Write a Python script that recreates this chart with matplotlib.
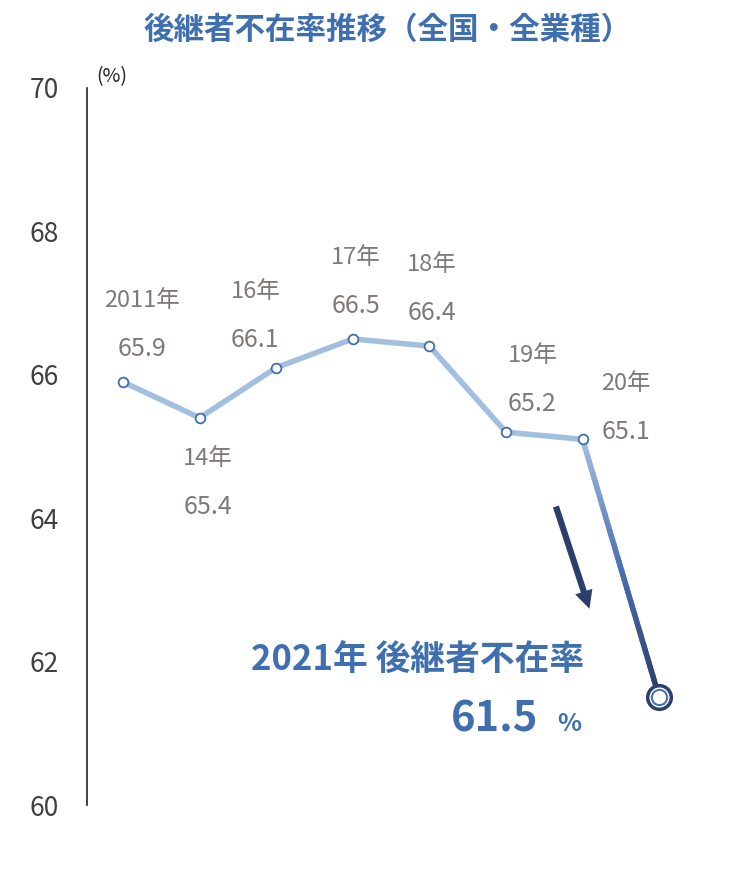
import matplotlib.pyplot as plt
import numpy as np
from matplotlib.collections import LineCollection
from matplotlib.colors import LinearSegmentedColormap

plt.rcParams['font.family'] = 'Noto Sans CJK JP'

years = ['2011年', '14年', '16年', '17年', '18年', '19年', '20年', '2021年']
values = [65.9, 65.4, 66.1, 66.5, 66.4, 65.2, 65.1, 61.5]
yticks = [60, 62, 64, 66, 68, 70]

# label offsets in points (dx, dy of value line)
offsets = [(14, 24), (6, -64), (-15, 20), (2, 24), (2, 24), (19, 20), (31, 5)]

fig = plt.figure(figsize=(7.32, 8.84), dpi=100)
ax = fig.add_axes([87 / 732, 79 / 884, 645 / 732, 717 / 884])
x = np.arange(len(values))
ax.set_xlim(-0.47, 7.95)
ax.set_ylim(60, 70)

light = '#a3bfe0'
navy = '#2a3f6a'
ax.plot(x[:-1], values[:-1], color=light, lw=4, zorder=2)
# gradient final segment
t = np.linspace(0, 1, 60)
xs = x[-2] + t * (x[-1] - x[-2])
ys = values[-2] + t * (values[-1] - values[-2])
pts = np.array([xs, ys]).T.reshape(-1, 1, 2)
segs = np.concatenate([pts[:-1], pts[1:]], axis=1)
cmap = LinearSegmentedColormap.from_list('g', [light, '#4a72b0', navy])
lc = LineCollection(segs, cmap=cmap, lw=4, zorder=2, capstyle='round')
lc.set_array(t[:-1])
ax.add_collection(lc)

ax.plot(x[:-1], values[:-1], 'o', ms=7, mfc='white', mec='#3f6faf', mew=1.3, zorder=3)
ax.plot(x[-1], values[-1], 'o', ms=17, mfc='white', mec=navy, mew=2.5, zorder=3)
ax.plot(x[-1], values[-1], 'o', ms=11, mfc='white', mec='#4a72b0', mew=1.5, zorder=4)

for i in range(len(values) - 1):
    dx, dy = offsets[i]
    ax.annotate(f'{values[i]:.1f}', (x[i], values[i]), xytext=(dx, dy),
                textcoords='offset points', ha='center', va='center',
                fontsize=18, color='#7f7a78')
    ax.annotate(years[i], (x[i], values[i]), xytext=(dx, dy + 35),
                textcoords='offset points', ha='center', va='center',
                fontsize=17, color='#7f7a78')

ax.annotate('', xy=(6.1, 62.7), xytext=(5.64, 64.2),
            arrowprops=dict(arrowstyle='simple,head_width=1.3,head_length=1.3,tail_width=0.45',
                            color=navy, lw=0))
fig.text(0.57, 0.253, '2021年 後継者不在率', ha='center', va='center',
         fontsize=25, fontweight='bold', color='#3f6faf')
fig.text(0.735, 0.186, '61.5', ha='right', va='center',
         fontsize=30, fontweight='bold', color='#3f6faf')
fig.text(0.777, 0.181, '%', ha='center', va='center',
         fontsize=18, fontweight='bold', color='#3f6faf')

fig.text(0.53, 0.966, '後継者不在率推移（全国・全業種）', ha='center', va='center',
         fontsize=22, fontweight='bold', color='#3f6faf')
fig.text(0.152, 0.913, '(%)', ha='center', va='center', fontsize=14, color='#222222')

ax.set_yticks(yticks)
ax.set_xticks([])
ax.tick_params(axis='y', length=0, labelsize=19, labelcolor='#404040', pad=20)
for s in ['top', 'right', 'bottom']:
    ax.spines[s].set_visible(False)
ax.spines['left'].set_color('#222222')
ax.spines['left'].set_linewidth(1.2)
ax.patch.set_alpha(0)

fig.savefig('out.png', dpi=100)
